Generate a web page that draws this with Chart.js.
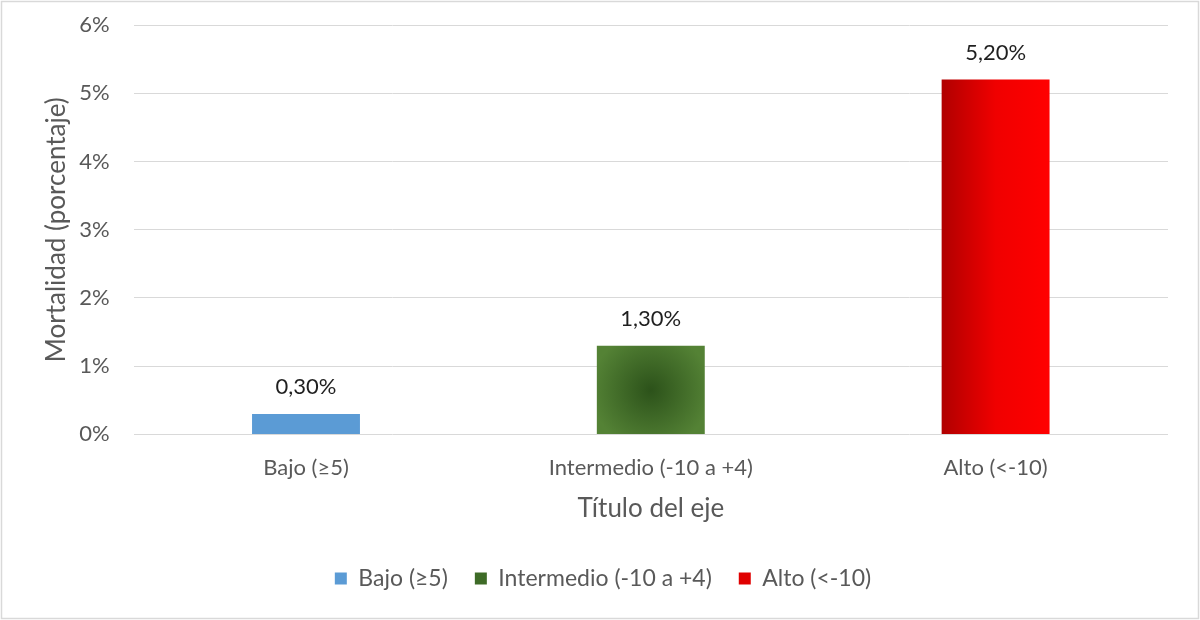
<!DOCTYPE html>
<html>
<head>
<meta charset="utf-8">
<script src="https://cdn.jsdelivr.net/npm/chart.js@4/dist/chart.umd.min.js"></script>
<style>
html,body{margin:0;padding:0;background:#fff;}
#wrap{width:1200px;height:620px;position:relative;}
</style>
</head>
<body>
<div id="wrap"><canvas id="c" width="1200" height="620"></canvas></div>
<script>
const categories = ['Bajo (≥5)', 'Intermedio (-10 a +4)', 'Alto (<-10)'];
const mortalidad = [0.3, 1.3, 5.2];
const yTicks = [0, 1, 2, 3, 4, 5, 6];
const legendColors = ['#5B9BD5', '#3E6B27', '#E00000'];

const FONT = 'Lato, "Open Sans", sans-serif';
const GREY = '#595959';

function barFill(ctx) {
  const chart = ctx.chart;
  const i = ctx.dataIndex;
  const xs = chart.scales.x, ys = chart.scales.y;
  if (!xs || !ys || xs.width === 0 || i === undefined) return legendColors[i] || '#999';
  const c = chart.ctx;
  const cx = xs.getPixelForValue(i);
  const w = xs.width / categories.length * 0.313;
  if (i === 0) return '#5B9BD5';
  if (i === 1) {
    const top = ys.getPixelForValue(mortalidad[i]);
    const bot = ys.getPixelForValue(0);
    const cy = (top + bot) / 2;
    const g = c.createRadialGradient(cx, cy, 0, cx, cy, w * 0.55);
    g.addColorStop(0, '#2C521A');
    g.addColorStop(1, '#548235');
    return g;
  }
  const g = c.createLinearGradient(cx - w / 2, 0, cx + w / 2, 0);
  g.addColorStop(0, '#B00000');
  g.addColorStop(0.5, '#F00000');
  g.addColorStop(1, '#FF0000');
  return g;
}

const labelPlugin = {
  id: 'valueLabels',
  afterDatasetsDraw(chart) {
    const c = chart.ctx;
    const meta = chart.getDatasetMeta(0);
    c.save();
    c.font = '22px ' + FONT;
    c.fillStyle = '#1f1f1f';
    c.textAlign = 'center';
    c.textBaseline = 'middle';
    meta.data.forEach((bar, i) => {
      const txt = mortalidad[i].toFixed(2).replace('.', ',') + '%';
      c.fillText(txt, bar.x, bar.y - 27);
    });
    c.restore();
  }
};

const borderPlugin = {
  id: 'outerBorder',
  afterDraw(chart) {
    const c = chart.ctx;
    c.save();
    c.strokeStyle = '#D9D9D9';
    c.lineWidth = 1.5;
    c.strokeRect(1.5, 1.5, chart.width - 3, chart.height - 3);
    c.restore();
  }
};

new Chart(document.getElementById('c'), {
  type: 'bar',
  data: {
    labels: categories,
    datasets: [{
      label: 'Mortalidad',
      data: mortalidad,
      backgroundColor: barFill,
      borderWidth: 0,
      categoryPercentage: 1,
      barPercentage: 0.313
    }]
  },
  options: {
    responsive: false,
    animation: false,
    devicePixelRatio: 1,
    layout: { padding: { left: 38, right: 32, top: 0, bottom: 20 } },
    plugins: {
      tooltip: { enabled: false },
      legend: {
        position: 'bottom',
        labels: {
          boxWidth: 12,
          boxHeight: 12,
          padding: 27,
          color: GREY,
          font: { family: FONT, size: 23 },
          generateLabels() {
            return categories.map((t, i) => ({
              text: t, fillStyle: legendColors[i], strokeStyle: legendColors[i],
              lineWidth: 0, hidden: false, index: i, fontColor: GREY
            }));
          }
        },
        onClick() {}
      }
    },
    scales: {
      x: {
        grid: { display: false },
        border: { display: false },
        ticks: { color: GREY, font: { family: FONT, size: 22 }, padding: 12 },
        title: { display: true, text: 'Título del eje', color: GREY, font: { family: FONT, size: 26 }, padding: { top: 0, bottom: 16 } }
      },
      y: {
        min: 0, max: 6,
        afterBuildTicks(axis) { axis.ticks = yTicks.map(v => ({ value: v })); },
        afterFit(axis) { axis.paddingTop = 25; },
        grid: { color: '#D9D9D9', lineWidth: 1, drawTicks: false },
        border: { display: false },
        ticks: { color: GREY, font: { family: FONT, size: 22 }, padding: 24, callback: v => v + '%' },
        title: { display: true, text: 'Mortalidad (porcentaje)', color: GREY, font: { family: FONT, size: 26 }, padding: { top: 3, bottom: -17 } }
      }
    }
  },
  plugins: [labelPlugin, borderPlugin]
});
</script>
</body>
</html>
